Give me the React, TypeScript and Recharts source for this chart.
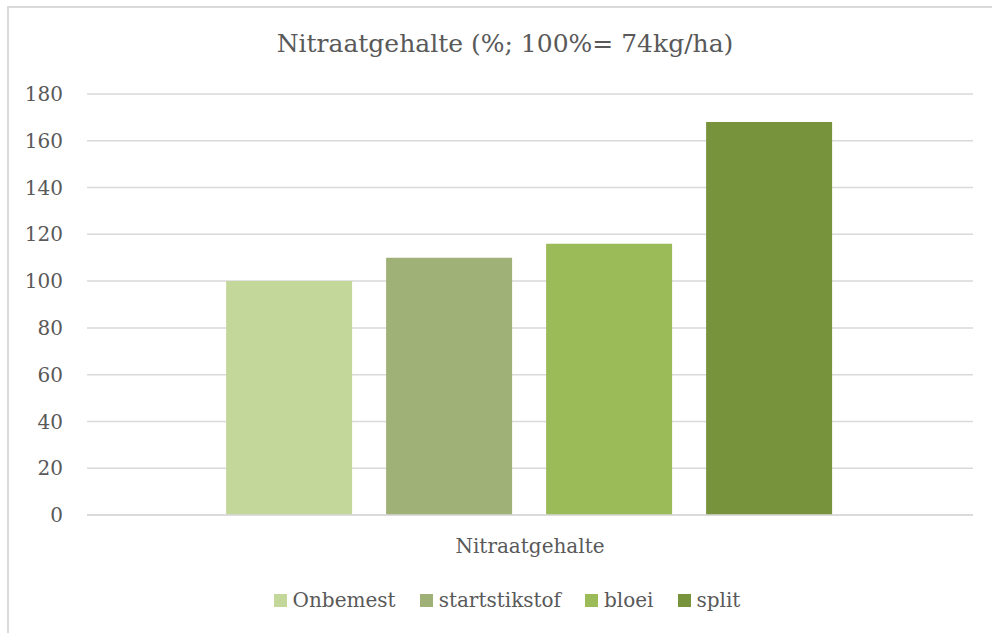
import { BarChart, Bar, XAxis, YAxis, CartesianGrid, Legend } from "recharts";

const CATEGORIES = ["Nitraatgehalte"];
const SERIES = ["Onbemest", "startstikstof", "bloei", "split"];
const VALUES = [100, 110, 116, 168];
const COLORS = ["#c4d79b", "#a0b177", "#9bbb59", "#77933c"];
const Y_TICKS = [0, 20, 40, 60, 80, 100, 120, 140, 160, 180];

const FONT = "'DejaVu Serif', serif";
const TEXT = "#595959";

const data = CATEGORIES.map((name) => {
  const row: Record<string, string | number> = { name };
  SERIES.forEach((s, i) => {
    row[s] = VALUES[i];
  });
  return row;
});

function LegendContent() {
  return (
    <div
      style={{
        display: "flex",
        justifyContent: "center",
        gap: 24,
        paddingLeft: 14,
        fontFamily: FONT,
        fontSize: 20,
        color: TEXT,
      }}
    >
      {SERIES.map((s, i) => (
        <div key={s} style={{ display: "flex", alignItems: "center", gap: 6 }}>
          <span style={{ width: 13, height: 13, background: COLORS[i], display: "inline-block" }} />
          <span>{s}</span>
        </div>
      ))}
    </div>
  );
}

export default function App() {
  return (
    <div style={{ position: "fixed", left: 0, top: 0, width: 992, height: 633, overflow: "hidden", background: "#fff" }}>
      <div
        style={{
          position: "absolute",
          left: 7,
          top: 6,
          width: 1000,
          height: 640,
          border: "2px solid #d9d9d9",
          boxSizing: "border-box",
        }}
      />
      <div
        style={{
          position: "absolute",
          top: 29,
          left: 0,
          width: 1010,
          textAlign: "center",
          fontFamily: FONT,
          fontSize: 25,
          color: TEXT,
        }}
      >
        Nitraatgehalte (%; 100%= 74kg/ha)
      </div>
      <div style={{ position: "absolute", left: 0, top: 0 }}>
        <BarChart
          width={992}
          height={633}
          data={data}
          margin={{ top: 94, right: 19, left: 27, bottom: 21 }}
          barCategoryGap="15.7%"
          barGap={34}
        >
          <CartesianGrid vertical={false} stroke="#d9d9d9" strokeWidth={1.5} />
          <XAxis
            dataKey="name"
            height={73}
            axisLine={{ stroke: "#d9d9d9", strokeWidth: 1.5 }}
            tickLine={false}
            tickSize={0}
            tickMargin={24}
            tick={{ fontFamily: FONT, fontSize: 20, fill: TEXT }}
          />
          <YAxis
            domain={[0, 180]}
            ticks={Y_TICKS}
            width={60}
            axisLine={false}
            tickLine={false}
            tickSize={0}
            tickMargin={24}
            tick={{ fontFamily: FONT, fontSize: 20, fill: TEXT }}
          />
          <Legend verticalAlign="bottom" content={<LegendContent />} />
          {SERIES.map((s, i) => (
            <Bar key={s} dataKey={s} fill={COLORS[i]} isAnimationActive={false} />
          ))}
        </BarChart>
      </div>
    </div>
  );
}
